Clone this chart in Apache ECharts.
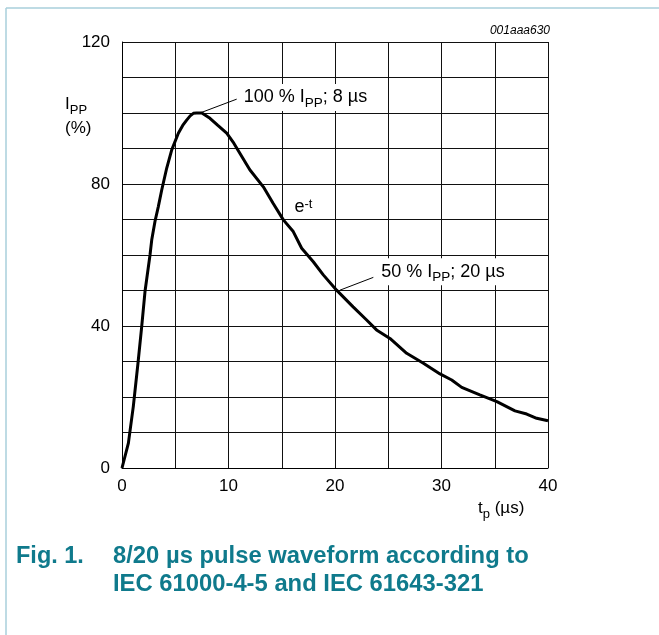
<!DOCTYPE html>
<html><head><meta charset="utf-8">
<script src="https://cdn.jsdelivr.net/npm/echarts@6/dist/echarts.min.js"></script>
<style>html,body{margin:0;padding:0;background:#fff}#c{width:659px;height:635px}</style>
</head><body><div id="c"></div>
<script>
// ---- data ----
const timeUs = [0,0.1,0.6,1.06,1.5,1.85,2.16,2.63,2.79,3.1,3.4,3.73,4.2,4.67,5.29,5.7,6.07,6.4,6.7,7.0,7.5,8.26,9.0,9.83,10.5,11.08,12.0,13.27,14.2,15.15,16.08,16.87,17.96,18.9,20.15,21.7,22.97,23.9,25.16,26.73,28.3,29.86,30.96,31.9,33.6,35.2,36.9,38.0,38.94,40];
const ippPct = [0,0.5,7,17.3,29.5,39.8,49.7,60,64.2,69.5,73.5,78.3,84.5,89.6,94.3,96.5,98,99.2,99.9,100,100,98.5,96.5,94.3,91.5,88.6,84,79.2,74.5,69.9,66.6,61.9,58.1,54.4,50.1,45.4,41.7,38.9,36.5,32.3,29.5,26.5,24.8,22.7,20.6,18.7,16.1,15.2,14.0,13.3];
const xTickLabels = [0,10,20,30,40];
const yTickLabels = [0,40,80,120];
const peakLeader = [[7.32,100],[10.77,103.9]];
const halfLeader = [[20.47,50.1],[23.6,53.7]];
const notes = [
  {pos:[11.24,104.4], text:'{a|100 % I}{s|PP}{a|; 8 µs}', bg:'#fff'},
  {pos:[24.16,55.3], text:'{a|50 % I}{s|PP}{a|; 20 µs}', bg:'#fff'},
  {pos:[16.0,73.4], text:'{a|e}{sup|-t}', bg:'transparent'}
];

const FONT = "'Liberation Sans', Arial, sans-serif";
const TEAL = '#0f7a8c';
const richBase = {
  a:{fontSize:18, fontFamily:FONT, fontWeight:'normal', color:'#000', lineHeight:20, verticalAlign:'middle'},
  s:{fontSize:13.5, fontFamily:FONT, fontWeight:'normal', color:'#000', lineHeight:25, verticalAlign:'bottom'},
  sup:{fontSize:13, fontFamily:FONT, fontWeight:'normal', color:'#000', lineHeight:12, verticalAlign:'top'}
};
const richAxis = {
  i:{fontSize:17, fontFamily:FONT, fontWeight:'normal', color:'#000', lineHeight:20, verticalAlign:'middle'},
  s:{fontSize:13, fontFamily:FONT, fontWeight:'normal', color:'#000', lineHeight:25, verticalAlign:'bottom'}
};

const chart = echarts.init(document.getElementById('c'), null, {renderer:'canvas'});
chart.setOption({
  animation:false,
  backgroundColor:'#fff',
  graphic:[
    {type:'line', shape:{x1:6,y1:8,x2:659,y2:8}, style:{stroke:'#a9cfdb', lineWidth:1.5}},
    {type:'line', shape:{x1:6,y1:8,x2:6,y2:635}, style:{stroke:'#a9cfdb', lineWidth:1.5}}
  ],
  title:[
    {text:'001aaa630', right:109, top:24, padding:0,
     textStyle:{fontSize:12, fontStyle:'italic', fontWeight:'normal', fontFamily:FONT, color:'#000', lineHeight:14}},
    {text:'{i|I}{s|PP}', left:65, top:92, padding:0,
     textStyle:{fontWeight:'normal', rich:richAxis}},
    {text:'(%)', left:65, top:118, padding:0,
     textStyle:{fontSize:17, fontWeight:'normal', fontFamily:FONT, color:'#000', lineHeight:20}},
    {text:'{i|t}{s|p}{i| (µs)}', left:478, top:496, padding:0,
     textStyle:{fontWeight:'normal', rich:richAxis}},
    {text:'Fig. 1.', left:16, top:543, padding:0,
     textStyle:{fontSize:23.5, fontWeight:'bold', fontFamily:FONT, color:TEAL, lineHeight:27.7}},
    {text:'8/20 µs pulse waveform according to\nIEC 61000-4-5 and IEC 61643-321', left:113, top:543, padding:0,
     textStyle:{fontSize:23.8, fontWeight:'bold', fontFamily:FONT, color:TEAL, lineHeight:27.7}}
  ],
  grid:{left:122, top:42, width:426, height:426, containLabel:false},
  xAxis:{
    type:'value', min:0, max:40, interval:5,
    axisLine:{show:true, lineStyle:{color:'#000', width:1}},
    axisTick:{show:false},
    splitLine:{show:true, lineStyle:{color:'#111', width:1}},
    axisLabel:{interval:0, margin:10, fontSize:17, fontFamily:FONT, color:'#000',
      formatter:v => xTickLabels.includes(v) ? String(v) : ''}
  },
  yAxis:{
    type:'value', min:0, max:120, interval:10,
    axisLine:{show:true, lineStyle:{color:'#000', width:1}},
    axisTick:{show:false},
    splitLine:{show:true, lineStyle:{color:'#111', width:1}},
    axisLabel:{margin:12, fontSize:17, fontFamily:FONT, color:'#000',
      formatter:v => yTickLabels.includes(v) ? String(v) : ''}
  },
  series:[
    {type:'line', data:timeUs.map((t,i)=>[t,ippPct[i]]), showSymbol:false, smooth:false,
     lineStyle:{color:'#000', width:3}, z:5},
    {type:'line', data:peakLeader, showSymbol:false, lineStyle:{color:'#000', width:1}, z:4},
    {type:'line', data:halfLeader, showSymbol:false, lineStyle:{color:'#000', width:1}, z:4},
    {type:'scatter', symbolSize:0, z:6, itemStyle:{opacity:1},
     data:notes.map(n=>({value:n.pos, label:{formatter:n.text, backgroundColor:n.bg}})),
     label:{show:true, position:'right', distance:0, padding:[1,2], color:'#000', opacity:1, rich:richBase}}
  ]
});
</script></body></html>
